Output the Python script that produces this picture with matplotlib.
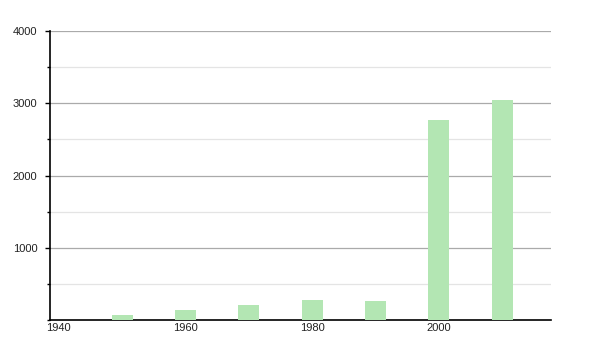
import matplotlib
matplotlib.use('Agg')
import matplotlib.pyplot as plt
from matplotlib.ticker import MultipleLocator

plt.rcParams['font.family'] = ['Liberation Sans', 'DejaVu Sans']

# data
years = [1950, 1960, 1970, 1980, 1990, 2000, 2010]
values = [69, 138, 208, 277, 263, 2768, 3045]
xtick_years = [1940, 1960, 1980, 2000]
ytick_vals = [1000, 2000, 3000, 4000]

fig = plt.figure(figsize=(6, 3.5), dpi=100)
ax = fig.add_axes([0.0833, 0.0857, 0.835, 0.8257])

ax.bar(years, values, width=3.3, color='#b3e6b3', zorder=3)

ax.set_xlim(1938.6, 2017.7)
ax.set_ylim(0, 4000)

ax.set_yticks(ytick_vals)
ax.set_yticklabels([str(v) for v in ytick_vals], fontsize=8, color='#222222')
ax.yaxis.set_minor_locator(MultipleLocator(500))
ax.tick_params(axis='y', which='major', length=3.6, width=1, color='black', pad=5.5)
ax.tick_params(axis='y', which='minor', length=2, width=1, color='black')

ax.set_xticks(xtick_years)
ax.set_xticklabels([str(v) for v in xtick_years], fontsize=8, color='#222222')
ax.tick_params(axis='x', length=0, pad=2.5)

ax.grid(axis='y', which='major', color='#aaaaaa', linewidth=0.9, zorder=1)
ax.grid(axis='y', which='minor', color='#e4e4e4', linewidth=0.9, zorder=1)

for s in ['top', 'right']:
    ax.spines[s].set_visible(False)
ax.spines['left'].set_linewidth(1.2)
ax.spines['bottom'].set_linewidth(1.2)

fig.savefig('out.png', dpi=100)
